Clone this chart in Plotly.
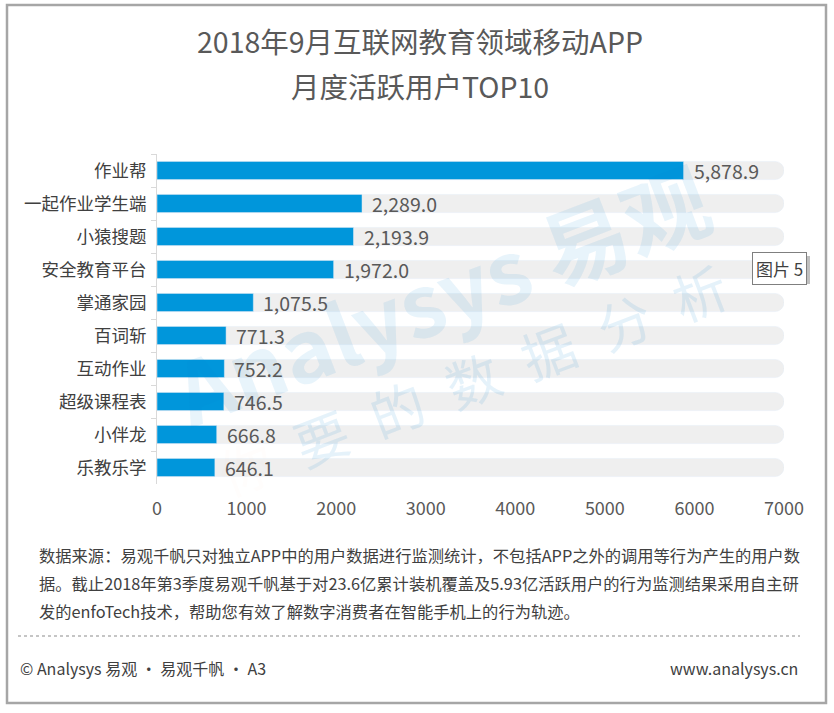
import plotly.graph_objects as go

# data
apps = ["作业帮", "一起作业学生端", "小猿搜题", "安全教育平台", "掌通家园",
        "百词斩", "互动作业", "超级课程表", "小伴龙", "乐教乐学"]
mau = [5878.9, 2289.0, 2193.9, 1972.0, 1075.5, 771.3, 752.2, 746.5, 666.8, 646.1]
axis_max = 7000
x_ticks = [0, 1000, 2000, 3000, 4000, 5000, 6000, 7000]

title_lines = ["2018年9月互联网教育领域移动APP", "月度活跃用户TOP10"]
source_lines = [
    "数据来源：易观千帆只对独立APP中的用户数据进行监测统计，不包括APP之外的调用等行为产生的用户数",
    "据。截止2018年第3季度易观千帆基于对23.6亿累计装机覆盖及5.93亿活跃用户的行为监测结果采用自主研",
    "发的enfoTech技术，帮助您有效了解数字消费者在智能手机上的行为轨迹。",
]
footer_left = "© Analysys 易观 · 易观千帆 · A3"
footer_right = "www.analysys.cn"
badge = "图片 5"
watermark_1 = "Analysys 易观"
watermark_2 = ["你", "要", "的", "数", "据", "分", "析"]

W, H = 834, 713
L, R, T, B = 157, 50, 154, 229
PW, PH = W - L - R, H - T - B

FONT = "Noto Sans CJK SC"
BLUE = "#0096DB"
GREY_TXT = "#595959"


def px_x(x):
    return (x - L) / PW


def px_y(y):
    return (H - B - y) / PH


fig = go.Figure()

# track behind each bar
fig.add_trace(go.Bar(
    y=apps, x=[axis_max] * len(apps), orientation="h",
    marker=dict(color="#EFEFEF", cornerradius=9),
    hoverinfo="skip", showlegend=False,
))
fig.add_trace(go.Bar(
    y=apps, x=mau, orientation="h",
    marker=dict(color=BLUE),
    showlegend=False,
))

ann = []

# watermark first so everything else sits on top
ann.append(dict(x=px_x(440), y=px_y(292), xref="paper", yref="paper",
                xanchor="center", yanchor="middle",
                text="<b>" + watermark_1 + "</b>", showarrow=False, textangle=-21,
                font=dict(size=86, color="rgba(0,130,210,0.09)", family=FONT)))
wm2 = "<span style='color:rgba(250,150,50,0.17)'>" + watermark_2[0] + "</span>"
wm2 += "\u2002" + "\u2002".join(watermark_2[1:])
ann.append(dict(x=px_x(472), y=px_y(378), xref="paper", yref="paper",
                xanchor="center", yanchor="middle",
                text=wm2, showarrow=False, textangle=-21,
                font=dict(size=54, color="rgba(0,130,210,0.10)", family=FONT)))

for name, v in zip(apps, mau):
    ann.append(dict(x=v, y=name, xref="x", yref="y", text=f"{v:,.1f}",
                    showarrow=False, xanchor="left", xshift=8,
                    font=dict(size=19.5, color=GREY_TXT, family=FONT)))

# title
for i, line in enumerate(title_lines):
    ann.append(dict(x=px_x(420), y=px_y(40 + i * 45), xref="paper", yref="paper",
                    text=line, showarrow=False, xanchor="center", yanchor="middle",
                    font=dict(size=28.5, color=GREY_TXT, family=FONT)))

# source note
for i, line in enumerate(source_lines):
    ann.append(dict(x=px_x(37), y=px_y(555 + i * 28), xref="paper", yref="paper",
                    text=line, showarrow=False, xanchor="left", yanchor="middle",
                    font=dict(size=16.3, color="#404040", family=FONT)))

ann.append(dict(x=px_x(18), y=px_y(668), xref="paper", yref="paper",
                text=footer_left, showarrow=False, xanchor="left", yanchor="middle",
                font=dict(size=16, color="#404040", family=FONT)))
ann.append(dict(x=px_x(800), y=px_y(668), xref="paper", yref="paper",
                text=footer_right, showarrow=False, xanchor="right", yanchor="middle",
                font=dict(size=16, color="#404040", family=FONT)))

# "图片 5" badge
ann.append(dict(x=px_x(779), y=px_y(268), xref="paper", yref="paper",
                text=badge, showarrow=False, xanchor="center", yanchor="middle",
                bgcolor="white", bordercolor="#7F7F7F", borderwidth=1, borderpad=3,
                font=dict(size=17, color="#404040", family=FONT)))

shapes = [
    # outer frame
    dict(type="rect", xref="paper", yref="paper",
         x0=px_x(7), x1=px_x(826), y0=px_y(5), y1=px_y(703),
         line=dict(color="#A6A6A6", width=2.5), layer="below"),
    # dotted separator
    dict(type="line", xref="paper", yref="paper",
         x0=px_x(18), x1=px_x(800), y0=px_y(636), y1=px_y(636),
         line=dict(color="#8C8C8C", width=1.2, dash="dot")),
    # badge shadow
    dict(type="rect", xref="paper", yref="paper",
         x0=px_x(752), x1=px_x(810), y0=px_y(256), y1=px_y(284),
         line=dict(width=0), fillcolor="#BFBFBF", layer="above"),
]

fig.update_layout(
    width=W, height=H,
    margin=dict(l=L, r=R, t=T, b=B),
    paper_bgcolor="white", plot_bgcolor="white",
    barmode="overlay", bargap=0.45,
    font=dict(family=FONT, color=GREY_TXT),
    annotations=ann, shapes=shapes,
    xaxis=dict(range=[0, axis_max], tickvals=x_ticks, showgrid=False,
               zeroline=False, showline=False, ticks="",
               tickfont=dict(size=18, color=GREY_TXT), ticklabelstandoff=12),
    yaxis=dict(autorange="reversed", showgrid=False, zeroline=False,
               showline=True, linecolor="#D9D9D9", linewidth=1,
               ticks="outside", tickson="boundaries", ticklen=5,
               tickcolor="#D9D9D9", ticklabelstandoff=6,
               tickfont=dict(size=17.5, color="#404040")),
)

fig.write_html("out.html", config={"displayModeBar": False},
               post_script="document.body.style.margin='0';")
